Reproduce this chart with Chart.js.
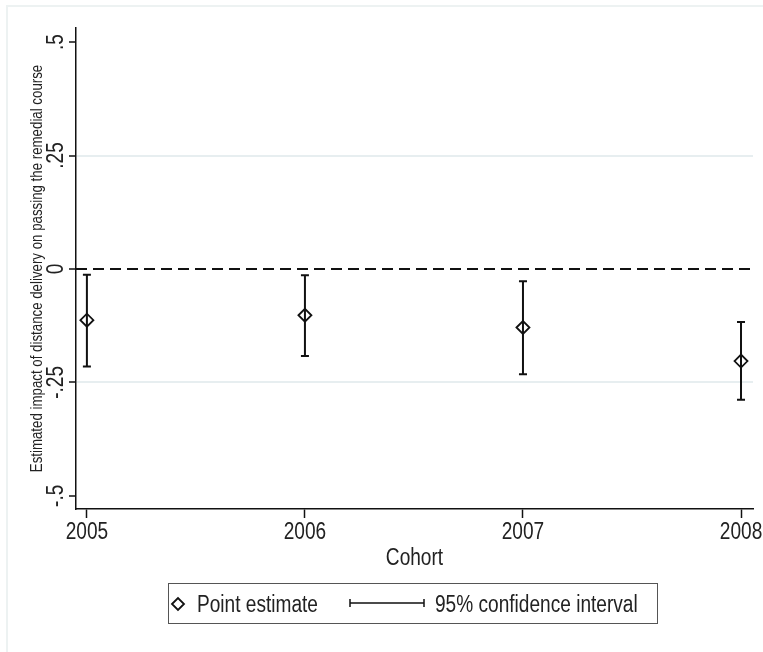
<!DOCTYPE html>
<html>
<head>
<meta charset="utf-8">
<script src="https://cdn.jsdelivr.net/npm/chart.js@4.4.0/dist/chart.umd.min.js"></script>
<style>
  body { margin: 0; background: #fff; }
  canvas { display: block; }
</style>
</head>
<body>
<canvas id="cohortChart" width="763" height="652"></canvas>
<script>
// values
var cohorts = [2005, 2006, 2007, 2008];
var pointEstimates = [-0.113, -0.102, -0.129, -0.203];
var ciLower = [-0.215, -0.192, -0.232, -0.288];
var ciUpper = [-0.013, -0.014, -0.027, -0.117];
var yTickValues = [-0.5, -0.25, 0, 0.25, 0.5];
var yTickLabels = ['-.5', '-.25', '0', '.25', '.5'];
var xTickLabels = ['2005', '2006', '2007', '2008'];
var refLineY = 0;
var xMin = 2004.95, xMax = 2008.055;
var yMin = -0.529, yMax = 0.531;

var FONT = "'Liberation Sans', Arial, sans-serif";
var NARROW = 0.83; // the original uses a narrow Helvetica

var pointData = cohorts.map(function (c, i) { return { x: c, y: pointEstimates[i] }; });
var refLine = [{ x: xMin, y: refLineY }, { x: xMax, y: refLineY }];

function drawDiamond(ctx, x, y, r) {
  ctx.beginPath();
  ctx.moveTo(x - r, y);
  ctx.lineTo(x, y - r);
  ctx.lineTo(x + r, y);
  ctx.lineTo(x, y + r);
  ctx.closePath();
  ctx.stroke();
}

// narrow text: size in px, align, optional rotation
function text(ctx, str, x, y, size, align, rot) {
  ctx.save();
  ctx.font = size + 'px ' + FONT;
  ctx.textAlign = align;
  ctx.textBaseline = 'alphabetic';
  ctx.translate(x, y);
  if (rot) ctx.rotate(rot);
  ctx.scale(NARROW, 1);
  ctx.fillText(str, 0, 0);
  ctx.restore();
}

var framePlugin = {
  id: 'frame',
  beforeDraw: function (chart) {
    var ctx = chart.ctx;
    ctx.save();
    ctx.fillStyle = '#fff';
    ctx.fillRect(0, 0, chart.width, chart.height);
    ctx.strokeStyle = '#edf2f2';
    ctx.lineWidth = 2;
    ctx.beginPath();
    ctx.moveTo(7, chart.height);
    ctx.lineTo(7, 6);
    ctx.lineTo(chart.width, 6);
    ctx.stroke();
    ctx.restore();
  }
};

var errorBarPlugin = {
  id: 'errorBars',
  beforeDatasetsDraw: function (chart) {
    var ctx = chart.ctx, xs = chart.scales.x, ys = chart.scales.y;
    ctx.save();
    ctx.strokeStyle = '#111';
    ctx.lineWidth = 2;
    cohorts.forEach(function (c, i) {
      var px = xs.getPixelForValue(c);
      var top = ys.getPixelForValue(ciUpper[i]);
      var bot = ys.getPixelForValue(ciLower[i]);
      ctx.beginPath();
      ctx.moveTo(px, top); ctx.lineTo(px, bot);
      ctx.moveTo(px - 4, top); ctx.lineTo(px + 4, top);
      ctx.moveTo(px - 4, bot); ctx.lineTo(px + 4, bot);
      ctx.stroke();
    });
    ctx.restore();
  }
};

var labelsPlugin = {
  id: 'labels',
  afterDraw: function (chart) {
    var ctx = chart.ctx, xs = chart.scales.x, ys = chart.scales.y, area = chart.chartArea;
    ctx.save();
    ctx.fillStyle = '#222';
    // y tick labels, rotated
    yTickValues.forEach(function (v, i) {
      text(ctx, yTickLabels[i], 63, ys.getPixelForValue(v), 23, 'center', -Math.PI / 2);
    });
    // y title
    text(ctx, 'Estimated impact of distance delivery on passing the remedial course',
      42, (area.top + area.bottom) / 2, 16, 'center', -Math.PI / 2);
    // x tick labels
    cohorts.forEach(function (c, i) {
      text(ctx, xTickLabels[i], xs.getPixelForValue(c), 539, 23, 'center');
    });
    // x title
    text(ctx, 'Cohort', (area.left + area.right) / 2, 565, 23, 'center');

    // legend
    ctx.strokeStyle = '#555';
    ctx.lineWidth = 1;
    ctx.strokeRect(168.5, 583.5, 489, 40);
    ctx.strokeStyle = '#111';
    ctx.lineWidth = 1.8;
    drawDiamond(ctx, 178, 604, 6);
    text(ctx, 'Point estimate', 197, 612, 23, 'left');
    ctx.lineWidth = 1.5;
    ctx.beginPath();
    ctx.moveTo(350, 603); ctx.lineTo(424, 603);
    ctx.moveTo(350, 599); ctx.lineTo(350, 607);
    ctx.moveTo(424, 599); ctx.lineTo(424, 607);
    ctx.stroke();
    text(ctx, '95% confidence interval', 435, 612, 23, 'left');
    ctx.restore();
  }
};

new Chart(document.getElementById('cohortChart').getContext('2d'), {
  type: 'scatter',
  data: {
    datasets: [{
      label: 'Point estimate',
      data: pointData,
      pointStyle: 'rectRot',
      pointRadius: 6.5,
      pointBorderWidth: 1.8,
      pointBorderColor: '#111',
      pointBackgroundColor: 'rgba(0,0,0,0)',
      showLine: false
    }, {
      label: 'zero',
      data: refLine,
      showLine: true,
      borderColor: '#111',
      borderWidth: 2,
      borderDash: [11, 6],
      pointRadius: 0
    }]
  },
  options: {
    responsive: false,
    animation: false,
    layout: { padding: { left: 69, top: 28, right: 10, bottom: 134 } },
    plugins: { legend: { display: false }, tooltip: { enabled: false } },
    scales: {
      x: {
        type: 'linear',
        min: xMin,
        max: xMax,
        afterBuildTicks: function (scale) { scale.ticks = cohorts.map(function (c) { return { value: c }; }); },
        ticks: { display: false },
        grid: { color: 'rgba(0,0,0,0)', tickColor: '#111', tickLength: 9, tickWidth: 1.5 },
        border: { color: '#111', width: 1.5 }
      },
      y: {
        min: yMin,
        max: yMax,
        afterBuildTicks: function (scale) { scale.ticks = yTickValues.map(function (v) { return { value: v }; }); },
        ticks: { display: false },
        grid: {
          color: function (c) { return (c.tick && Math.abs(c.tick.value) === 0.25) ? '#e7eef0' : 'rgba(0,0,0,0)'; },
          lineWidth: 2,
          tickColor: '#111',
          tickLength: 7,
          tickWidth: 1.5
        },
        border: { color: '#111', width: 1.5 }
      }
    }
  },
  plugins: [framePlugin, errorBarPlugin, labelsPlugin]
});
</script>
</body>
</html>
